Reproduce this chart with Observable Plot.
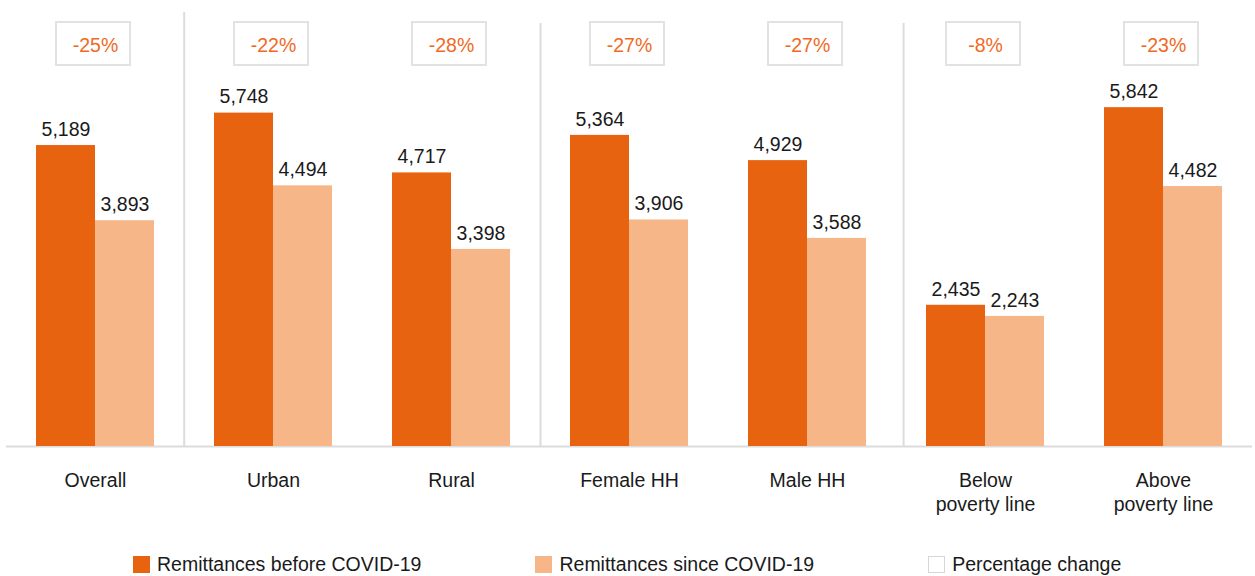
<!DOCTYPE html>
<html>
<head>
<meta charset="utf-8">
<script src="https://cdn.jsdelivr.net/npm/d3@7"></script>
<script src="https://cdn.jsdelivr.net/npm/@observablehq/plot@0.6"></script>
<style>
  html, body { margin: 0; padding: 0; background: #fff; }
  #chart { width: 1255px; }
  .legend { display: flex; align-items: center; gap: 114px; margin-left: 133px; padding-top: 23px;
    font-family: "Liberation Sans", Arial, sans-serif; font-size: 19.5px; color: #1a1a1a; }
  .legend .item { display: flex; align-items: center; gap: 7px; white-space: nowrap; }
  .legend .sw { width: 17px; height: 17px; box-sizing: border-box; }
</style>
</head>
<body>
<div id="chart"></div>
<script>
// ---- data ----
const categories = ["Overall", "Urban", "Rural", "Female HH", "Male HH", "Below\npoverty line", "Above\npoverty line"];
const seriesNames = ["Remittances before COVID-19", "Remittances since COVID-19"];
const beforeValues = [5189, 5748, 4717, 5364, 4929, 2435, 5842];
const sinceValues = [3893, 4494, 3398, 3906, 3588, 2243, 4482];
const pctChange = ["-25%", "-22%", "-28%", "-27%", "-27%", "-8%", "-23%"];
const legendLabels = ["Remittances before COVID-19", "Remittances since COVID-19", "Percentage change"];

// ---- styles ----
const colors = ["#E8630F", "#F7B687"];
const pctColor = "#F06A25";
const gridColor = "#dcdcdc";
const font = "'Liberation Sans', Arial, sans-serif";

const rows = [];
categories.forEach((c, i) => {
  rows.push({category: c, series: seriesNames[0], value: beforeValues[i]});
  rows.push({category: c, series: seriesNames[1], value: sinceValues[i]});
});
const pctRows = categories.map((c, i) => ({category: c, pct: pctChange[i]}));

const chart = Plot.plot({
  width: 1255,
  height: 530,
  marginLeft: 3,
  marginRight: 1,
  marginTop: 40,
  marginBottom: 84,
  style: {fontFamily: font, background: "#fff", color: "#1a1a1a"},
  fx: {domain: categories, padding: 0, axis: null},
  x: {domain: seriesNames, paddingInner: 0, paddingOuter: 0.5, axis: null},
  y: {domain: [0, 7000], axis: null},
  color: {domain: seriesNames, range: colors},
  marks: [
    Plot.ruleY([0], {stroke: gridColor, strokeWidth: 2}),
    Plot.ruleX([categories[1]], {fx: d => d, x: null, dx: -89.3, insetTop: -28, stroke: gridColor, strokeWidth: 2}),
    Plot.ruleX([categories[3]], {fx: d => d, x: null, dx: -89, insetTop: -17, stroke: gridColor, strokeWidth: 2}),
    Plot.ruleX([categories[5]], {fx: d => d, x: null, dx: -81.9, insetTop: -17, stroke: gridColor, strokeWidth: 2}),
    Plot.barY(rows, {fx: "category", x: "series", y: "value", fill: "series"}),
    Plot.text(rows, {fx: "category", x: "series", y: "value", text: d => d3.format(",")(d.value),
      dy: -16, fontSize: 19.5, fill: "#1a1a1a"}),
    Plot.rect(pctRows, {fx: "category", insetLeft: 50, insetRight: 54, insetTop: -18, insetBottom: 381,
      fill: "#fff", stroke: "#e2e2e2", strokeWidth: 2}),
    Plot.text(pctRows, {fx: "category", text: "pct", frameAnchor: "top", lineAnchor: "middle", dy: 5,
      fontSize: 19.5, fill: pctColor}),
    Plot.text(categories, {fx: d => d, text: d => d, frameAnchor: "bottom", lineAnchor: "top",
      dy: 23.5, lineHeight: 1.23, fontSize: 19.5, fill: "#1a1a1a"})
  ]
});
document.getElementById("chart").appendChild(chart);

// ---- legend ----
const legend = document.createElement("div");
legend.className = "legend";
legendLabels.forEach((label, i) => {
  const item = document.createElement("div");
  item.className = "item";
  const sw = document.createElement("div");
  sw.className = "sw";
  if (i < 2) sw.style.background = colors[i];
  else { sw.style.background = "#fff"; sw.style.border = "1.5px solid #d6d6d6"; }
  const t = document.createElement("span");
  t.textContent = label;
  item.appendChild(sw);
  item.appendChild(t);
  legend.appendChild(item);
});
document.getElementById("chart").appendChild(legend);
</script>
</body>
</html>
